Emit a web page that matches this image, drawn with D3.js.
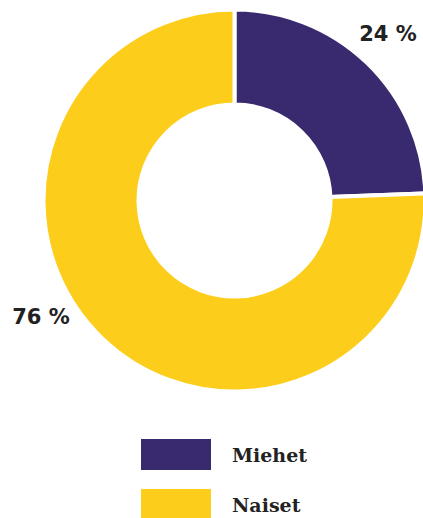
<!DOCTYPE html>
<html>
<head>
<meta charset="utf-8">
<script src="https://cdn.jsdelivr.net/npm/d3@7"></script>
<style>
  html, body { margin: 0; padding: 0; background: #ffffff; }
  svg { display: block; }
</style>
</head>
<body>
<svg id="chart" width="423" height="518"></svg>
<script>
const categories = ["Miehet", "Naiset"];
const values = [24.4, 75.6];
const valueLabels = ["24 %", "76 %"];
const colors = ["#392a6f", "#fdcd1b"];

const svg = d3.select("#chart");
const cx = 234.5, cy = 200.5;
const outerR = 191, innerR = 96;

const pie = d3.pie().sort(null).value(d => d.value);
const arcs = pie(categories.map((c, i) => ({ name: c, value: values[i], label: valueLabels[i], color: colors[i] })));

const arc = d3.arc().innerRadius(innerR).outerRadius(outerR);

const g = svg.append("g").attr("transform", `translate(${cx},${cy})`);
g.selectAll("path.slice")
  .data(arcs)
  .join("path")
  .attr("class", "slice")
  .attr("d", arc)
  .attr("fill", d => d.data.color)
  .attr("stroke", "#ffffff")
  .attr("stroke-width", 4)
  .attr("stroke-linejoin", "miter");

// value labels placed outside the ring
const labelR = 226;
const labelAngle = (d, i) => i === 0 ? (d.startAngle + d.endAngle) / 2 - 0.02 : d.startAngle + (d.endAngle - d.startAngle) * 0.555;
g.selectAll("text.val")
  .data(arcs)
  .join("text")
  .attr("class", "val")
  .attr("x", (d, i) => labelR * Math.sin(labelAngle(d, i)))
  .attr("y", (d, i) => -labelR * Math.cos(labelAngle(d, i)))
  .attr("dy", "0.3em")
  .attr("text-anchor", "middle")
  .attr("font-family", "DejaVu Sans, sans-serif")
  .attr("font-size", 21)
  .attr("font-weight", "bold")
  .attr("fill", "#222222")
  .text(d => d.data.label);

// legend
const legend = svg.append("g").attr("transform", "translate(141,439)");
const items = legend.selectAll("g.item")
  .data(categories)
  .join("g")
  .attr("class", "item")
  .attr("transform", (d, i) => `translate(0,${i * 50})`);
items.append("rect")
  .attr("width", 70)
  .attr("height", 31)
  .attr("fill", (d, i) => colors[i]);
items.append("text")
  .attr("x", 91)
  .attr("y", 23)
  .attr("font-family", "DejaVu Serif, serif")
  .attr("font-size", 19)
  .attr("font-weight", "bold")
  .attr("fill", "#222222")
  .text(d => d);
</script>
</body>
</html>
